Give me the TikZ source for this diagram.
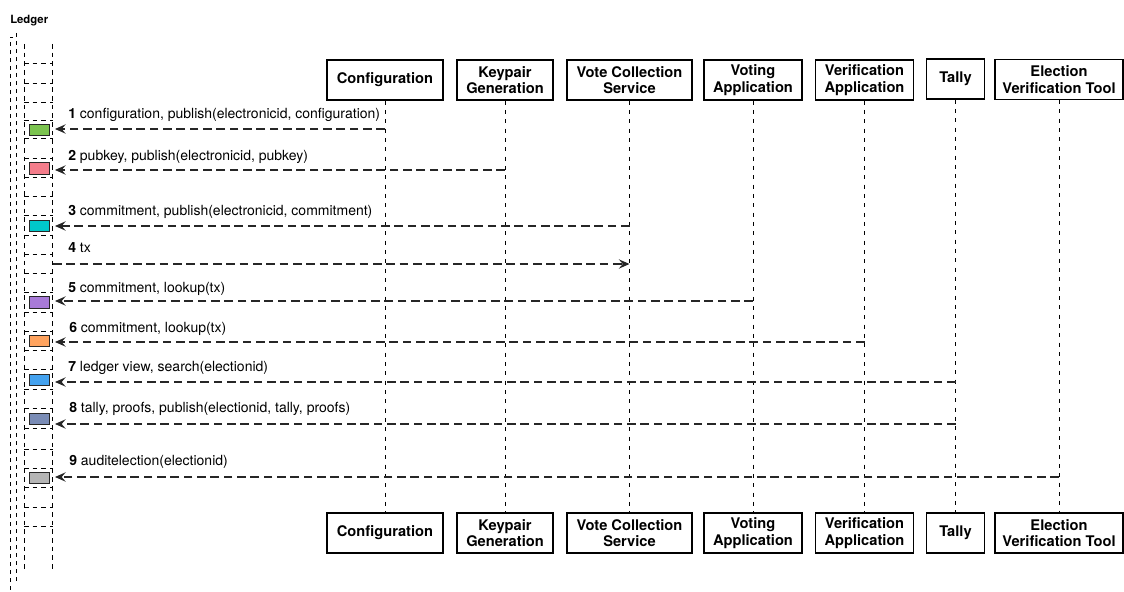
\documentclass[tikz,border=0pt]{standalone}
\usepackage{fontspec}
\setmainfont{TeX Gyre Heros}
\usetikzlibrary{arrows.meta}
\definecolor{cgreen}{HTML}{7CC450}
\definecolor{cpink}{HTML}{F47D8B}
\definecolor{ccyan}{HTML}{00C7C9}
\definecolor{cpurple}{HTML}{A87AD8}
\definecolor{corange}{HTML}{FFA35E}
\definecolor{cblue}{HTML}{44A2EF}
\definecolor{cslate}{HTML}{7A8CB6}
\definecolor{cgray}{HTML}{B5B5B5}
\begin{document}
\begin{tikzpicture}[x=0.75pt,y=-0.75pt,
  actor/.style={draw=black, line width=0.8pt, fill=white, minimum width=#1*0.75pt,
    minimum height=30pt, inner sep=0pt, align=center,
    font=\fontsize{11}{12.5}\selectfont\bfseries},
  lifeline/.style={draw=black, line width=0.6pt, dash pattern=on 3pt off 4pt},
  msg/.style={draw=black!85, line width=1pt, dash pattern=on 6.5pt off 3.5pt,
    -{Stealth[length=8pt,width=7pt,inset=3pt]}},
  lbl/.style={anchor=west, inner sep=0pt, font=\fontsize{10.5}{12}\selectfont},
  blk/.style={draw=black!85, line width=0.7pt, minimum width=15pt,
    minimum height=8.5pt, inner sep=0pt},
  ledgerline/.style={draw=black, line width=0.6pt, dash pattern=on 3.5pt off 3pt},
  outerline/.style={draw=black, line width=0.6pt, dash pattern=on 3pt off 3pt}]
\useasboundingbox (0,0) rectangle (1124,592);

% Ledger title
\node[font=\fontsize{8.5}{10}\selectfont\bfseries, anchor=west, inner sep=0pt] (ledger) at (10,21) {Ledger};

% outer ledger lines
\draw[outerline] (13,37) -- (10,37) -- (10,592);
\draw[outerline] (16,33) -- (16,583);

% ledger column
\draw[ledgerline] (24,44) -- (24,572);
\draw[ledgerline] (52.7,44) -- (52.7,572);
\foreach \yy in {63,83,102,120,138,158,177,196,215,235,254,273,292,312,331,350,369,389,408,428,449,468,487,507,526}
  \draw[ledgerline] (24,\yy) -- (52.7,\yy);

% blocks
\node[blk, fill=cgreen]  (b1) at (39.3,130) {};
\node[blk, fill=cpink]   (b2) at (39.3,168.5) {};
\node[blk, fill=ccyan]   (b3) at (39.3,226) {};
\node[blk, fill=cpurple] (b5) at (39.3,302.5) {};
\node[blk, fill=corange] (b6) at (39.3,341) {};
\node[blk, fill=cblue]   (b7) at (39.3,380) {};
\node[blk, fill=cslate]  (b8) at (39.3,419) {};
\node[blk, fill=cgray]   (b9) at (39.3,478) {};

% actors top
\node[actor=116] (cfgT) at (385,80) {Configuration};
\node[actor=96]  (kpT)  at (505,80) {Keypair\\Generation};
\node[actor=125] (vcsT) at (629.5,80) {Vote Collection\\Service};
\node[actor=98]  (vaT)  at (753,80) {Voting\\Application};
\node[actor=98]  (vfT)  at (864.5,80) {Verification\\Application};
\node[actor=58]  (tlT)  at (955.5,79) {Tally};
\node[actor=128] (evT)  at (1059,79.5) {Election\\Verification Tool};

% actors bottom
\node[actor=116] (cfgB) at (385,533) {Configuration};
\node[actor=96]  (kpB)  at (505,533) {Keypair\\Generation};
\node[actor=125] (vcsB) at (629.5,533) {Vote Collection\\Service};
\node[actor=98]  (vaB)  at (753,533) {Voting\\Application};
\node[actor=98]  (vfB)  at (864.5,533) {Verification\\Application};
\node[actor=58]  (tlB)  at (955.5,533) {Tally};
\node[actor=128] (evB)  at (1059,533) {Election\\Verification Tool};

% lifelines
\draw[lifeline] (cfgT.south) -- (cfgB.north);
\draw[lifeline] (kpT.south) -- (kpB.north);
\draw[lifeline] (vcsT.south) -- (vcsB.north);
\draw[lifeline] (vaT.south) -- (vaB.north);
\draw[lifeline] (vfT.south) -- (vfB.north);
\draw[lifeline] (tlT.south) -- (tlB.north);
\draw[lifeline] (evT.south) -- (evB.north);

% message end points at the ledger
\coordinate (e1) at (55,129);
\coordinate (e2) at (55,170);
\coordinate (e3) at (55,226);
\coordinate (s4) at (53,264);
\coordinate (e5) at (55,301);
\coordinate (e6) at (55,342);
\coordinate (e7) at (55,382);
\coordinate (e8) at (55,424);
\coordinate (e9) at (55,477);

% messages
\draw[msg] (cfgT.south |- e1) -- (e1);
\draw[msg] (kpT.south |- e2) -- (e2);
\draw[msg] (vcsT.south |- e3) -- (e3);
\draw[msg] (s4) -- (vcsT.south |- s4);
\draw[msg] (vaT.south |- e5) -- (e5);
\draw[msg] (vfT.south |- e6) -- (e6);
\draw[msg] (tlT.south |- e7) -- (e7);
\draw[msg] (tlT.south |- e8) -- (e8);
\draw[msg] (evT.south |- e9) -- (e9);

% labels
\node[lbl] (t1) at (68,115) {\textbf{1} configuration, publish(electronicid, configuration)};
\node[lbl] (t2) at (68,157) {\textbf{2} pubkey, publish(electronicid, pubkey)};
\node[lbl] (t3) at (68,212) {\textbf{3} commitment, publish(electronicid, commitment)};
\node[lbl] (t4) at (68,248) {\textbf{4} tx};
\node[lbl] (t5) at (68,289) {\textbf{5} commitment, lookup(tx)};
\node[lbl] (t6) at (69,329) {\textbf{6} commitment, lookup(tx)};
\node[lbl] (t7) at (68,368) {\textbf{7} ledger view, search(electionid)};
\node[lbl] (t8) at (69,409) {\textbf{8} tally, proofs, publish(electionid, tally, proofs)};
\node[lbl] (t9) at (69,462) {\textbf{9} auditelection(electionid)};
\end{tikzpicture}
\end{document}
